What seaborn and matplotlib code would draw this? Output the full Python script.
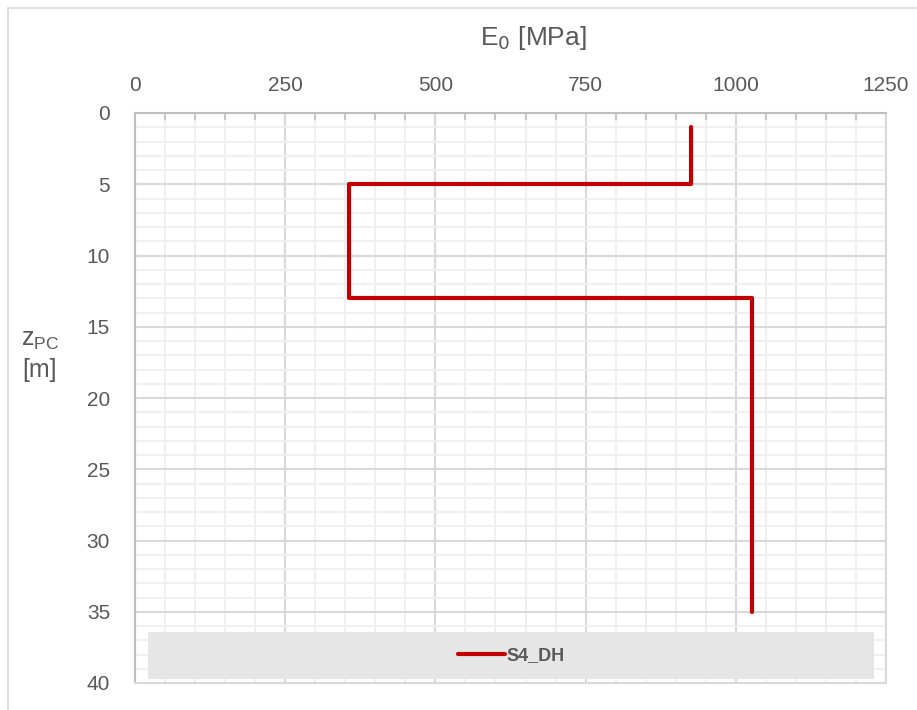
import matplotlib
matplotlib.use("Agg")
import matplotlib.pyplot as plt
import seaborn as sns
import pandas as pd
from matplotlib.patches import Rectangle
from matplotlib.ticker import MultipleLocator

# Data
E0_MPa = [925, 925, 357, 357, 1027, 1027]
z_PC_m = [1, 5, 5, 13, 13, 35]
series_name = "S4_DH"
x_ticks = [0, 250, 500, 750, 1000, 1250]
y_ticks = [0, 5, 10, 15, 20, 25, 30, 35, 40]

df = pd.DataFrame({"E0": E0_MPa, "z": z_PC_m, "series": series_name})

sns.set_style("white")
plt.rcParams['font.family'] = ['Liberation Sans', 'DejaVu Sans']

fig = plt.figure(figsize=(9.17, 7.10), dpi=100)
ax = fig.add_axes([135/917, 1-683/710, 751/917, 570/710])

# figure border
fig.patches.append(Rectangle((8/917, -0.1), 1.2, 1 - 8/710 + 0.1, transform=fig.transFigure,
                             fill=False, edgecolor="#d9d9d9", linewidth=1.2, zorder=0))

sns.lineplot(data=df, x="E0", y="z", hue="series", palette=["#c00000"], sort=False,
             estimator=None, linewidth=3, ax=ax, legend=True, zorder=5)

ax.set_xlim(0, 1250)
ax.set_ylim(40, 0)
ax.xaxis.tick_top()
ax.set_xticks(x_ticks)
ax.set_yticks(y_ticks)
ax.xaxis.set_minor_locator(MultipleLocator(50))
ax.yaxis.set_minor_locator(MultipleLocator(1))

ax.grid(which="major", color="#d9d9d9", linewidth=1.5)
ax.grid(which="minor", color="#f0f0f0", linewidth=1.5)
ax.set_axisbelow(True)

for s in ax.spines.values():
    s.set_color("#d9d9d9")
    s.set_linewidth(1.5)
ax.spines["left"].set_color("#bfbfbf")
ax.spines["top"].set_color("#bfbfbf")

ax.tick_params(which="major", length=0, labelsize=15, labelcolor="#595959")
ax.tick_params(axis="x", which="major", pad=13)
ax.tick_params(axis="y", which="major", pad=18)
ax.tick_params(which="minor", direction="in", length=5, color="#bfbfbf", width=1.2)
ax.tick_params(axis="x", which="minor", top=True, bottom=False)

ax.set_xlabel("")
ax.set_ylabel("")
fig.text(533/917, 1-38/710, r"E$_0$ [MPa]", ha="center", va="center", fontsize=19, color="#595959")
fig.text(40/917, 1-355/710, "z$_\\mathregular{PC}$\n[m]", ha="center", va="center", fontsize=18,
         color="#595959", linespacing=1.3)

# legend band
ax.add_patch(Rectangle((13/751, 4/570), 726/751, 47/570, transform=ax.transAxes,
                       facecolor="#e6e6e6", edgecolor="none", zorder=6))
leg = ax.legend(loc="center", bbox_to_anchor=(376/751, 27/570), frameon=False,
                handlelength=2.6, handletextpad=0.1,
                prop={"weight": "bold", "size": 13})
leg.set_zorder(7)
for t in leg.get_texts():
    t.set_color("#595959")

fig.savefig("out.png", dpi=100)
